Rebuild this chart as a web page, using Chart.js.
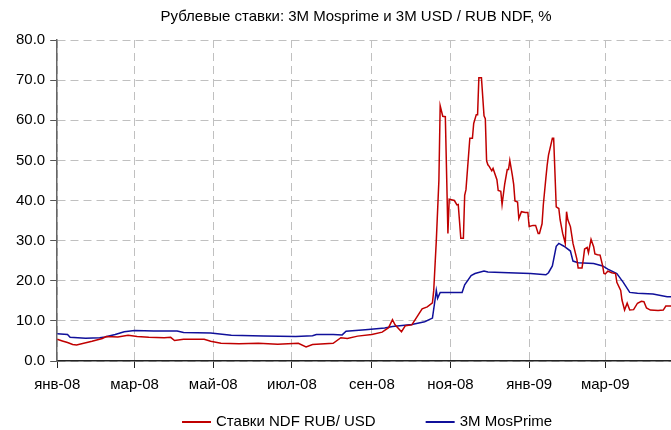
<!DOCTYPE html>
<html lang="ru">
<head>
    <meta charset="UTF-8">
    <title>Рублевые ставки</title>
    <script src="https://cdn.jsdelivr.net/npm/chart.js"></script>
    <style>
        body { margin: 0; background: #fff; }
        #chartBox { width: 671px; height: 430px; }
    </style>
</head>
<body>
    <div id="chartBox"><canvas id="chartRates" width="671" height="430"></canvas></div>
    <script>
        // Даты и значения
        const ndfDates = [
            '2008-01-01','2008-01-05','2008-01-09','2008-01-13','2008-01-16','2008-01-20','2008-01-24','2008-01-28',
            '2008-02-05','2008-02-08','2008-02-17','2008-02-25','2008-03-03','2008-03-12','2008-03-24','2008-03-29',
            '2008-04-01','2008-04-08','2008-04-24','2008-04-29','2008-05-07','2008-05-21','2008-06-05','2008-06-20',
            '2008-07-06','2008-07-12','2008-07-17','2008-08-02','2008-08-08','2008-08-13','2008-08-21','2008-09-01',
            '2008-09-09','2008-09-14','2008-09-17','2008-09-19','2008-09-24','2008-09-27','2008-10-02','2008-10-06',
            '2008-10-10','2008-10-14','2008-10-18','2008-10-19','2008-10-21','2008-10-23','2008-10-24','2008-10-26',
            '2008-10-28','2008-10-30','2008-10-31','2008-11-04','2008-11-06','2008-11-07','2008-11-09','2008-11-11',
            '2008-11-12','2008-11-13','2008-11-16','2008-11-18','2008-11-19','2008-11-21','2008-11-22','2008-11-23',
            '2008-11-25','2008-11-27','2008-11-28','2008-11-29','2008-11-30','2008-12-01','2008-12-03','2008-12-04',
            '2008-12-07','2008-12-08','2008-12-10','2008-12-11','2008-12-13','2008-12-15','2008-12-16','2008-12-17',
            '2008-12-19','2008-12-20','2008-12-21','2008-12-23','2008-12-24','2008-12-26','2008-12-29','2008-12-31',
            '2009-01-01','2009-01-04','2009-01-06','2009-01-08','2009-01-09','2009-01-11','2009-01-12','2009-01-14',
            '2009-01-15','2009-01-16','2009-01-19','2009-01-20','2009-01-22','2009-01-24','2009-01-25','2009-01-27',
            '2009-01-29','2009-01-30','2009-01-31','2009-02-02','2009-02-04','2009-02-07','2009-02-08','2009-02-11',
            '2009-02-12','2009-02-13','2009-02-15','2009-02-16','2009-02-18','2009-02-20','2009-02-21','2009-02-23',
            '2009-02-25','2009-02-27','2009-02-28','2009-03-01','2009-03-03','2009-03-06','2009-03-09','2009-03-10',
            '2009-03-13','2009-03-14','2009-03-16','2009-03-18','2009-03-20','2009-03-23','2009-03-26','2009-03-29',
            '2009-03-31','2009-04-02','2009-04-05','2009-04-11','2009-04-15','2009-04-17','2009-04-21'
        ];
        const ndfValues = [
            5.4, 5.0, 4.6, 4.1, 4.0, 4.3, 4.6, 4.9,
            5.6, 6.1, 6.0, 6.4, 6.1, 5.9, 5.8, 5.9,
            5.1, 5.4, 5.4, 4.9, 4.4, 4.3, 4.4, 4.2,
            4.4, 3.5, 4.1, 4.4, 5.8, 5.6, 6.2, 6.6,
            7.2, 8.3, 10.3, 9.0, 7.3, 8.8, 9.0, 11.0,
            13.0, 13.5, 14.5, 17.6, 30.0, 45.0, 63.6, 61.0,
            60.9, 31.8, 40.3, 40.0, 38.9, 39.0, 30.6, 30.6,
            41.3, 42.7, 55.5, 55.5, 59.2, 61.4, 61.4, 70.6,
            70.6, 61.1, 60.4, 49.9, 48.9, 48.5, 47.4, 48.0,
            45.2, 42.5, 42.3, 39.0, 44.0, 47.7, 47.7, 50.0,
            46.2, 44.0, 39.9, 39.6, 35.5, 37.2, 37.0, 37.0,
            33.5, 33.8, 33.8, 31.8, 31.8, 34.2, 39.0, 45.7,
            48.9, 51.3, 55.5, 55.5, 38.4, 38.0, 35.2, 31.8,
            29.3, 37.2, 35.2, 33.5, 29.3, 25.4, 23.2, 23.2,
            25.4, 27.9, 28.3, 27.0, 30.3, 28.5, 26.7, 26.5,
            26.4, 23.7, 21.8, 21.7, 22.4, 22.0, 21.8, 19.6,
            17.6, 15.2, 12.7, 14.4, 12.7, 12.8, 14.4, 14.9,
            14.8, 13.2, 12.7, 12.6, 12.7, 13.7, 13.7
        ];
        const mosDates = [
            '2008-01-01','2008-01-09','2008-01-11','2008-01-23','2008-02-03','2008-02-07','2008-02-15','2008-02-22',
            '2008-03-01','2008-03-16','2008-04-03','2008-04-08','2008-04-29','2008-05-15','2008-06-09','2008-07-04',
            '2008-07-17','2008-07-20','2008-08-02','2008-08-09','2008-08-12','2008-08-27','2008-09-11','2008-09-17',
            '2008-10-02','2008-10-12','2008-10-18','2008-10-20','2008-10-21','2008-10-22','2008-10-24','2008-11-10',
            '2008-11-12','2008-11-17','2008-11-20','2008-11-27','2008-11-30','2008-12-16','2009-01-02','2009-01-14',
            '2009-01-16','2009-01-19','2009-01-22','2009-01-24','2009-01-28','2009-02-02','2009-02-04','2009-02-08',
            '2009-02-20','2009-02-27','2009-03-03','2009-03-10','2009-03-15','2009-03-20','2009-03-26','2009-04-07',
            '2009-04-18','2009-04-21'
        ];
        const mosValues = [
            6.8, 6.6, 5.9, 5.7, 5.8, 6.0, 6.6, 7.3,
            7.6, 7.5, 7.5, 7.1, 7.0, 6.4, 6.2, 6.1,
            6.3, 6.6, 6.6, 6.5, 7.4, 7.8, 8.2, 8.6,
            9.1, 9.8, 10.7, 15.2, 17.6, 15.6, 17.1, 17.1,
            19.0, 21.3, 21.8, 22.4, 22.2, 22.0, 21.8, 21.5,
            22.0, 23.7, 28.6, 29.3, 28.6, 27.4, 24.9, 24.5,
            24.3, 23.7, 22.9, 21.8, 19.6, 17.1, 16.9, 16.7,
            16.0, 16.0
        ];
        const tickDates = ['2008-01-01','2008-03-01','2008-05-01','2008-07-01','2008-09-01','2008-11-01','2009-01-01','2009-03-01'];
        const tickLabels = ['янв-08','мар-08','май-08','июл-08','сен-08','ноя-08','янв-09','мар-09'];
        const startDate = '2008-01-01';
        const endDate = '2009-04-21';

        const FONT = "'Liberation Sans', Arial, sans-serif";
        const TITLE = 'Рублевые ставки: 3M Mosprime и 3M USD / RUB NDF, %';

        // день от начала 2008 года
        function dayNum(s) {
            return (Date.parse(s + 'T00:00:00Z') - Date.parse(startDate + 'T00:00:00Z')) / 86400000;
        }
        const toPoints = (dates, values) => dates.map((d, i) => ({ x: dayNum(d), y: values[i] }));
        const tickDays = tickDates.map(dayNum);

        // Заголовок и легенда рисуются вручную
        const titleLegend = {
            id: 'titleLegend',
            afterDraw(chart) {
                const ctx = chart.ctx;
                const area = chart.chartArea;
                const mid = (area.left + area.right) / 2;
                ctx.save();
                ctx.font = '15px ' + FONT;
                ctx.fillStyle = '#000';
                ctx.textBaseline = 'middle';
                ctx.textAlign = 'center';
                ctx.fillText(TITLE, mid - 8, 17);

                ctx.textAlign = 'left';
                const items = chart.data.datasets.map(ds => ({
                    text: ds.label, color: ds.borderColor, w: ctx.measureText(ds.label).width
                }));
                const lineW = 29, gap = 5, between = 50;
                const total = items.reduce((s, it) => s + lineW + gap + it.w, 0) + between * (items.length - 1);
                let x = mid - total / 2 + 3;
                const y = chart.height - 8;
                items.forEach(it => {
                    ctx.strokeStyle = it.color;
                    ctx.lineWidth = 2;
                    ctx.beginPath();
                    ctx.moveTo(x, y);
                    ctx.lineTo(x + lineW, y);
                    ctx.stroke();
                    ctx.fillStyle = '#000';
                    ctx.fillText(it.text, x + lineW + gap, y);
                    x += lineW + gap + it.w + between;
                });
                ctx.restore();
            }
        };

        const ctxRates = document.getElementById('chartRates').getContext('2d');
        const chartRates = new Chart(ctxRates, {
            type: 'line',
            data: {
                datasets: [{
                    label: 'Ставки NDF RUB/ USD',
                    data: toPoints(ndfDates, ndfValues),
                    borderColor: '#c00000',
                    borderWidth: 1.5,
                    pointRadius: 0,
                    tension: 0
                }, {
                    label: '3M MosPrime',
                    data: toPoints(mosDates, mosValues),
                    borderColor: '#10109a',
                    borderWidth: 1.5,
                    pointRadius: 0,
                    tension: 0
                }]
            },
            options: {
                responsive: false,
                animation: false,
                layout: { padding: { left: 11, right: 0, top: 40, bottom: 28 } },
                plugins: {
                    legend: { display: false },
                    title: { display: false },
                    tooltip: { enabled: false }
                },
                scales: {
                    x: {
                        type: 'linear',
                        min: 0,
                        max: dayNum(endDate),
                        afterBuildTicks: (axis) => { axis.ticks = tickDays.map(v => ({ value: v })); },
                        ticks: {
                            autoSkip: false,
                            maxRotation: 0,
                            padding: 8,
                            color: '#000',
                            font: { family: FONT, size: 15 },
                            callback: (value, index) => tickLabels[index]
                        },
                        grid: { color: '#c0c0c0', tickColor: '#222', tickLength: 7 },
                        border: { color: '#222', width: 1.5, dash: [8, 5] }
                    },
                    y: {
                        min: 0,
                        max: 80,
                        ticks: {
                            stepSize: 10,
                            padding: 5,
                            color: '#000',
                            font: { family: FONT, size: 15 },
                            callback: (v) => v.toFixed(1)
                        },
                        grid: { color: '#c0c0c0', tickColor: '#555', tickLength: 7 },
                        border: { color: '#666', width: 1.5, dash: [8, 5] }
                    }
                }
            },
            plugins: [titleLegend]
        });
    </script>
</body>
</html>
